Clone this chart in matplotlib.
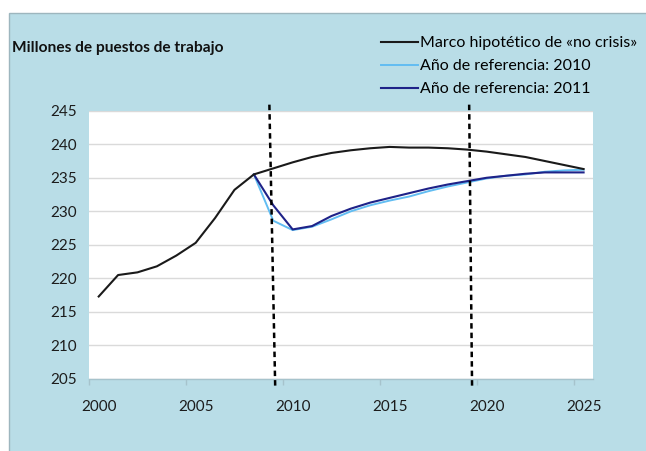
import matplotlib.pyplot as plt
from matplotlib.patches import Rectangle

plt.rcParams['font.family'] = ['Lato', 'DejaVu Sans']

years = list(range(2000, 2026))
no_crisis = [217.3, 220.5, 220.9, 221.8, 223.4, 225.3, 229.0, 233.2, 235.5, 236.4,
             237.3, 238.1, 238.7, 239.1, 239.4, 239.6, 239.5, 239.5, 239.4, 239.2,
             238.9, 238.5, 238.1, 237.5, 236.9, 236.3]

ref_years = list(range(2008, 2026))
ref_2010 = [235.5, 228.6, 227.2, 227.7, 228.8, 230.0, 230.9, 231.6, 232.2, 233.0,
            233.7, 234.3, 234.9, 235.3, 235.5, 235.9, 236.1, 236.2]
ref_2011 = [235.5, 230.9, 227.3, 227.8, 229.3, 230.4, 231.3, 232.0, 232.7, 233.4,
            234.0, 234.5, 235.0, 235.3, 235.6, 235.8, 235.8, 235.8]

# dashed markers (top x, bottom x), slightly slanted as in the source
crisis_marks = [(2008.8, 2009.1), (2019.1, 2019.25)]

PANEL = '#B9DDE7'
W, H = 646, 451

fig = plt.figure(figsize=(W / 100, H / 100), dpi=100, facecolor='white')
fig.add_artist(Rectangle((9 / W, -0.01), 1.0, 1 - 13 / H + 0.01, transform=fig.transFigure,
                         facecolor=PANEL, edgecolor='#9DB6BE', lw=1, zorder=0))

ax = fig.add_axes([89 / W, 1 - 379 / H, (593.3 - 89) / W, (379 - 110.7) / H])
ax.set_facecolor('white')
ax.set_zorder(1)

ax.plot(years, no_crisis, color='#1a1a1a', lw=1.5, label='Marco hipotético de «no crisis»', zorder=4)
ax.plot(ref_years, ref_2010, color='#62BDF2', lw=1.4, label='Año de referencia: 2010', zorder=3)
ax.plot(ref_years, ref_2011, color='#1E2288', lw=1.5, label='Año de referencia: 2011', zorder=3)

for x_top, x_bot in crisis_marks:
    ax.plot([x_top, x_bot], [245.9, 203.8], color='black', lw=1.8,
            linestyle=(0, (2.2, 1.6)), clip_on=False, zorder=5)

ax.set_xlim(1999.5, 2025.5)
ax.set_ylim(205, 245)
ax.set_yticks(range(205, 246, 5))
ax.set_xticks(range(2000, 2026, 5))
ax.set_xticks([1999.5 + 5 * k for k in range(6)], minor=True)
ax.tick_params(axis='x', which='major', length=0, pad=15, labelsize=11, labelcolor='#1c1c1c')
ax.tick_params(axis='x', which='minor', length=4, color='#A6C3CC', width=1)
ax.tick_params(axis='y', length=0, pad=9, labelsize=11, labelcolor='#1c1c1c')
ax.yaxis.grid(True, color='#DADADA', lw=1)
ax.set_axisbelow(True)
for side in ('top', 'right', 'left'):
    ax.spines[side].set_visible(False)
ax.spines['bottom'].set_color('#A6C3CC')
ax.spines['bottom'].set_linewidth(1)

fig.text(12 / W, 1 - 48 / H, 'Millones de puestos de trabajo', fontsize=11.2, fontweight='bold',
         color='#111111', va='center', ha='left')

handles, labels = ax.get_legend_handles_labels()
fig.legend(handles, labels, loc='upper left', bbox_to_anchor=(381 / W, 1 - 36 / H),
           frameon=False, fontsize=11.5, handlelength=2.3, handletextpad=0.15,
           labelspacing=0.55, borderaxespad=0, borderpad=0)

fig.savefig('out.png', dpi=100)
